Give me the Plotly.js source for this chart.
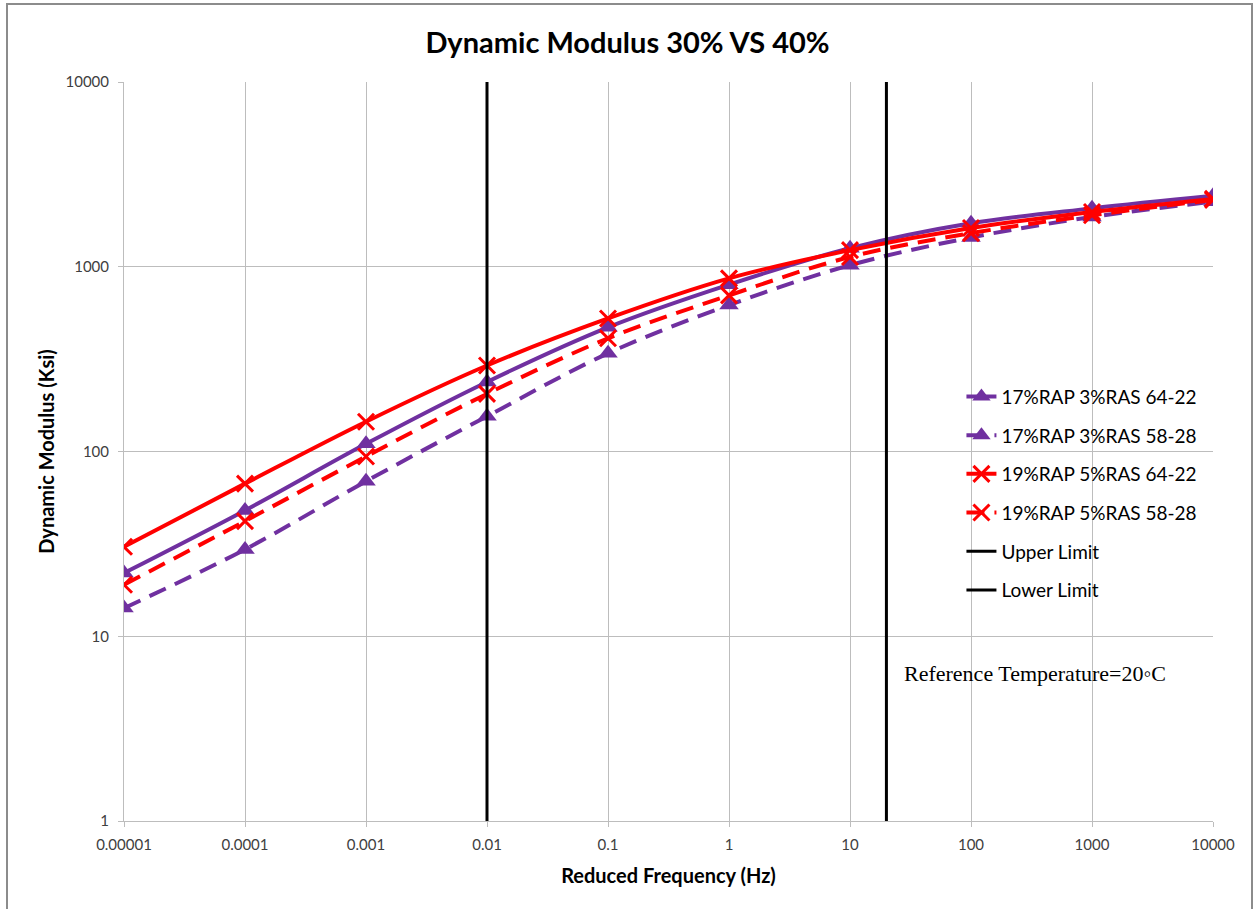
<!DOCTYPE html>
<html>
<head>
<meta charset="utf-8">
<script src="https://cdn.plot.ly/plotly-3.0.1.min.js"></script>
<style>
  html, body { margin: 0; padding: 0; background: #fff; }
  #chart { width: 1255px; height: 909px; position: relative; }
  #frame { position: absolute; left: 6px; top: 3px; width: 1243px; height: 920px;
           border: 2px solid #8c8c8c; pointer-events: none; }
</style>
</head>
<body>
<div id="chart"></div>
<div id="frame"></div>
<script>
// Reduced frequency (Hz) on the master curve
const freq = [0.00001, 0.0001, 0.001, 0.01, 0.1, 1, 10, 100, 1000, 10000];
const freqLabels = ['0.00001', '0.0001', '0.001', '0.01', '0.1', '1', '10', '100', '1000', '10000'];

// Dynamic modulus (ksi) for each mix
const rap17_6422 = [22, 48, 110, 238, 470, 800, 1260, 1720, 2070, 2420];
const rap17_5828 = [14.2, 29.5, 69, 155, 340, 620, 1020, 1440, 1860, 2250];
const rap19_6422 = [30.5, 67, 145, 292, 525, 865, 1230, 1620, 1980, 2330];
const rap19_5828 = [19, 42, 94, 205, 410, 700, 1130, 1520, 1900, 2300];

// Frequency limits of the test range
const upperLimitX = [0.01, 0.01];
const lowerLimitX = [20, 20];
const limitY = [1, 10000];

const purple = '#7030A0';
const red = '#FF0000';
const dashPattern = '18px,10px';

const triMarker = { symbol: 'triangle-up', size: 17, color: purple };
const xMarker = { symbol: 'x-thin', size: 16, color: red, line: { color: red, width: 3 } };

const traces = [
  { x: freq, y: rap17_6422, name: '17%RAP 3%RAS 64-22', mode: 'lines+markers',
    line: { color: purple, width: 4, shape: 'spline', smoothing: 1 }, marker: triMarker, legendgroup: 'a' },
  { x: freq, y: rap17_5828, name: '17%RAP 3%RAS 58-28', mode: 'lines+markers',
    line: { color: purple, width: 4, dash: dashPattern, shape: 'spline', smoothing: 1 }, marker: triMarker, legendgroup: 'b' },
  { x: freq, y: rap19_6422, name: '19%RAP 5%RAS 64-22', mode: 'lines+markers',
    line: { color: red, width: 4, shape: 'spline', smoothing: 1 }, marker: xMarker, legendgroup: 'c' },
  { x: freq, y: rap19_5828, name: '19%RAP 5%RAS 58-28', mode: 'lines+markers',
    line: { color: red, width: 4, dash: dashPattern, shape: 'spline', smoothing: 1 }, marker: xMarker, legendgroup: 'd' },
  { x: upperLimitX, y: limitY, name: 'Upper Limit', mode: 'lines',
    line: { color: '#000', width: 3 }, legendgroup: 'e' },
  { x: lowerLimitX, y: limitY, name: 'Lower Limit', mode: 'lines',
    line: { color: '#000', width: 3 }, legendgroup: 'f' }
];

const gridColor = '#bdbdbd';
const fontFamily = 'Lato, "Open Sans", sans-serif';
const tickFont = { family: fontFamily, size: 15, color: '#404040' };

const layout = {
  width: 1255,
  height: 909,
  paper_bgcolor: '#fff',
  plot_bgcolor: '#fff',
  margin: { l: 124, r: 42, t: 82, b: 88 },
  title: {
    text: '<b>Dynamic Modulus 30% VS 40%</b>',
    font: { family: fontFamily, size: 29, color: '#000' },
    x: 0.5, xref: 'container', xanchor: 'center',
    y: 0.953, yanchor: 'middle'
  },
  xaxis: {
    type: 'log',
    range: [-5, 4],
    tickvals: freq,
    ticktext: freqLabels,
    tickfont: tickFont,
    ticks: 'outside', ticklen: 5, tickcolor: gridColor, tickwidth: 1,
    ticklabelstandoff: 5,
    showgrid: true, gridcolor: gridColor, gridwidth: 1,
    showline: true, linecolor: gridColor, linewidth: 1,
    zeroline: false,
    title: { text: '<b>Reduced Frequency (Hz)</b>',
             font: { family: fontFamily, size: 20, color: '#000' },
             standoff: 16 }
  },
  yaxis: {
    type: 'log',
    range: [0, 4],
    tickvals: [1, 10, 100, 1000, 10000],
    ticktext: ['1', '10', '100', '1000', '10000'],
    tickfont: tickFont,
    ticks: 'outside', ticklen: 5, tickcolor: gridColor, tickwidth: 1,
    ticklabelstandoff: 6,
    showgrid: true, gridcolor: gridColor, gridwidth: 1,
    showline: true, linecolor: gridColor, linewidth: 1,
    zeroline: false,
    title: { text: '<b>Dynamic Modulus (Ksi)</b>',
             font: { family: fontFamily, size: 20, color: '#000' },
             standoff: 5 }
  },
  showlegend: true,
  legend: {
    x: 0.769, y: 0.6, xanchor: 'left', yanchor: 'top',
    bgcolor: 'rgba(0,0,0,0)',
    borderwidth: 0,
    traceorder: 'grouped',
    tracegroupgap: 11,
    font: { family: fontFamily, size: 19, color: '#000' }
  },
  annotations: [{
    text: 'Reference Temperature=20\u25E6C',
    xref: 'paper', yref: 'paper',
    x: 0.714, y: 0.199, xanchor: 'left', yanchor: 'middle',
    showarrow: false,
    font: { family: '"Liberation Serif", "Times New Roman", serif', size: 22, color: '#000' }
  }]
};

Plotly.newPlot('chart', traces, layout, { displayModeBar: false, staticPlot: true });
</script>
</body>
</html>
